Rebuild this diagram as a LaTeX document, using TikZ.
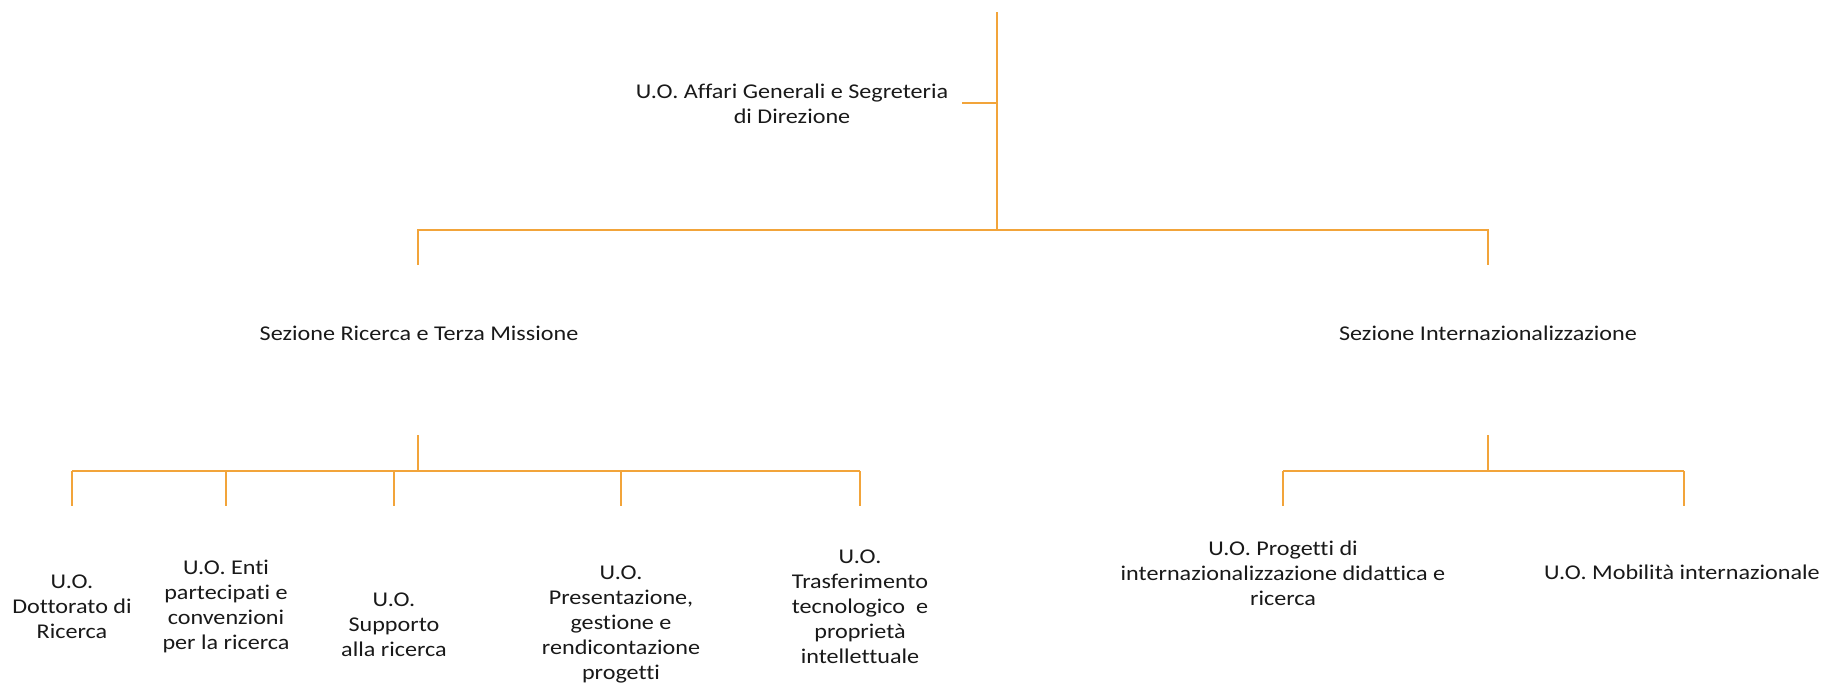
\documentclass[tikz,border=0pt]{standalone}
\usepackage{fontspec}
\setmainfont{Carlito}[Ligatures=NoCommon,FakeStretch=1.15]
\definecolor{lineorange}{RGB}{242,164,58}
\definecolor{txt}{RGB}{25,25,25}
\begin{document}
\begin{tikzpicture}[x=1pt,y=-1pt,
  conn/.style={draw=lineorange,line width=1.6pt},
  lbl/.style={align=center,text=txt,font=\fontsize{21}{25}\selectfont,inner sep=0pt}]
\useasboundingbox (0,0) rectangle (1822,688);
% nodes
\node[lbl] (AG) at (792,104) {U.O. Affari Generali e Segreteria\\di Direzione};
\node[lbl] (RTM) at (419,333) {Sezione Ricerca e Terza Missione};
\node[lbl] (INT) at (1488,333) {Sezione Internazionalizzazione};
\node[lbl] (DR) at (72,607) {U.O.\\Dottorato di\\Ricerca};
\node[lbl] (EP) at (226,606) {U.O. Enti\\partecipati e\\convenzioni\\per la ricerca};
\node[lbl] (SR) at (394,625) {U.O.\\Supporto\\alla ricerca};
\node[lbl] (PG) at (621,624) {U.O.\\Presentazione,\\gestione e\\rendicontazione\\progetti};
\node[lbl] (TT) at (860,607) {U.O.\\Trasferimento\\tecnologico\ \ e\\proprietà\\intellettuale};
\node[lbl] (PI) at (1283,573) {U.O. Progetti di\\internazionalizzazione didattica e\\ricerca};
\node[lbl,anchor=east] (MI) at (1820,572) {U.O. Mobilità internazionale};
% coordinates
\coordinate (t0) at (997,12);
\coordinate (j0) at (997,230);
\coordinate (d1) at (418,265);
\coordinate (d2) at (1488,265);
\coordinate (s1) at (418,435);
\coordinate (b1) at (418,471);
\coordinate (s2) at (1488,435);
\coordinate (b2) at (1488,471);
\coordinate (e1) at (72,506);
\coordinate (e2) at (226,506);
\coordinate (e3) at (394,506);
\coordinate (e4) at (621,506);
\coordinate (e5) at (860,506);
\coordinate (f1) at (1283,506);
\coordinate (f2) at (1684,506);
% connectors
\draw[conn] (t0) -- (j0);
\draw[conn] (962,103) -- (j0 |- 0,103);
\draw[conn] (d1) -- (d1 |- j0) -- (d2 |- j0) -- (d2);
\draw[conn] (s1) -- (b1);
\draw[conn] (b1 -| e1) -- (b1 -| e5);
\foreach \e in {e1,e2,e3,e4,e5} \draw[conn] (b1 -| \e) -- (\e);
\draw[conn] (s2) -- (b2);
\draw[conn] (b2 -| f1) -- (b2 -| f2);
\foreach \e in {f1,f2} \draw[conn] (b2 -| \e) -- (\e);
\end{tikzpicture}
\end{document}
